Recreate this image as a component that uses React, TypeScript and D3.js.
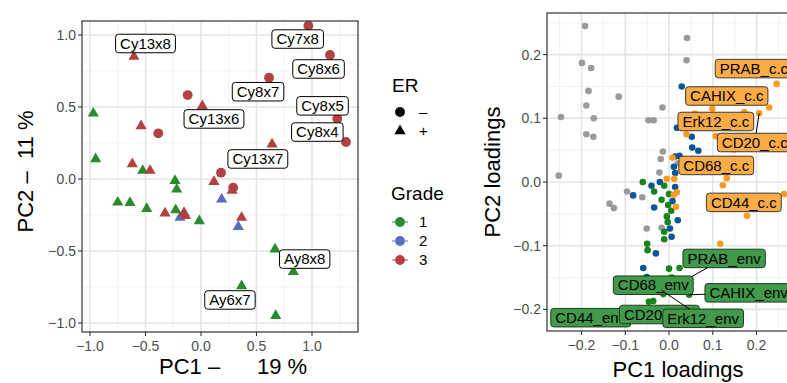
import React, { useRef, useEffect } from 'react';
import * as d3 from 'd3';

const FONT = "'Liberation Sans', Arial, Helvetica, sans-serif";

// ---------- Left panel: PCA scores ----------
const pcaX = [0.967, -0.604, 1.162, 0.613, -0.12, 0.012, -0.97, -0.54, -0.385, 1.228, 1.306, 0.64, -0.949, -0.619, -0.525, -0.459, 0.18, -0.234, -0.219, 0.117, 0.29, 0.28, 0.186, -0.75, -0.64, -0.489, -0.324, -0.228, -0.189, -0.153, -0.14, -0.015, 0.366, 0.336, 0.667, 0.832, 0.366, 0.673];
const pcaY = [1.065, 0.85, 0.861, 0.703, 0.583, 0.507, 0.456, 0.368, 0.317, 0.419, 0.257, 0.241, 0.139, 0.104, 0.058, 0.058, 0.044, -0.012, -0.072, -0.019, -0.06, -0.08, -0.141, -0.162, -0.165, -0.206, -0.238, -0.215, -0.268, -0.234, -0.255, -0.292, -0.268, -0.331, -0.488, -0.644, -0.743, -0.949];
const pcaGrade = [3, 3, 3, 3, 3, 3, 1, 3, 3, 3, 3, 3, 1, 3, 1, 3, 3, 1, 1, 3, 3, 3, 2, 1, 1, 1, 3, 1, 2, 3, 3, 1, 3, 2, 1, 1, 1, 1];
const pcaER = ['-', '+', '-', '-', '-', '+', '+', '+', '-', '-', '-', '+', '+', '+', '+', '+', '-', '+', '+', '+', '-', '+', '+', '+', '+', '+', '+', '+', '+', '+', '+', '+', '+', '+', '+', '+', '+', '+'];

const sampleNames = ['Cy13x8', 'Cy7x8', 'Cy8x6', 'Cy8x7', 'Cy8x5', 'Cy13x6', 'Cy8x4', 'Cy13x7', 'Ay8x8', 'Ay6x7'];
const sampleLabX = [-0.5, 0.871, 1.059, 0.514, 1.095, 0.117, 1.048, 0.512, 0.934, 0.261];
const sampleLabY = [0.941, 0.972, 0.764, 0.606, 0.508, 0.417, 0.326, 0.139, -0.556, -0.84];

const leftXTicks = [-1.0, -0.5, 0.0, 0.5, 1.0];
const leftYTicks = [-1.0, -0.5, 0.0, 0.5, 1.0];
const gradeLevels = [1, 2, 3];
const gradeColors = ['#2a8a2e', '#5b6cbf', '#b3413f'];
const erLevels = ['-', '+'];
const erLabels = ['\u2013', '+'];
const xTitleParts = ['PC1 \u2013', '19 %'];
const yTitle = 'PC2 \u2013  11 %';

// ---------- Right panel: loadings ----------
const greyX = [-0.192, -0.199, -0.178, -0.184, -0.115, -0.189, -0.015, -0.247, -0.172, -0.047, -0.035, 0.041, 0.04, -0.189, -0.173, -0.014, -0.022, -0.252, 0.02, -0.019, -0.096, -0.136, -0.126, -0.061, -0.051, -0.017];
const greyY = [0.245, 0.187, 0.179, 0.143, 0.134, 0.12, 0.117, 0.102, 0.1, 0.097, 0.097, 0.226, 0.191, 0.075, 0.071, 0.048, 0.015, 0.01, 0.029, 0.036, -0.015, -0.034, -0.041, -0.024, -0.073, -0.072];
const blueX = [0.029, 0.018, 0.052, 0.053, 0.067, 0.014, 0.024, 0.011, 0.014, -0.021, -0.04, 0.014, -0.082, 0.008, -0.034, 0.02, 0.002, 0.006, -0.03, -0.059, -0.051];
const blueY = [0.15, 0.085, 0.071, 0.054, 0.049, 0.04, 0.041, 0.024, 0.014, 0.0, -0.006, -0.008, -0.021, -0.03, -0.04, -0.06, -0.073, -0.086, -0.112, -0.135, -0.149];
const greenX = [-0.06, -0.034, -0.011, 0.0, -0.017, -0.002, 0.005, -0.005, -0.003, -0.011, -0.011, -0.05, -0.049, 0.0, 0.024, 0.006, 0.04, 0.046, -0.024, -0.013, -0.046, -0.036];
const greenY = [0.0, -0.015, -0.006, -0.019, -0.028, -0.036, -0.045, -0.054, -0.063, -0.078, -0.09, -0.097, -0.107, -0.136, -0.135, -0.15, -0.153, -0.177, -0.172, -0.176, -0.188, -0.187];
const orangeX = [0.246, 0.099, 0.172, 0.206, 0.229, 0.059, 0.04, 0.107, 0.149, 0.141, 0.008, 0.132, 0.123, 0.263, 0.178, 0.117, 0.012, -0.005, 0.018, 0.011, 0.016];
const orangeY = [0.154, 0.115, 0.11, 0.108, 0.117, 0.107, 0.075, 0.072, 0.051, 0.062, 0.038, 0.006, -0.005, -0.019, -0.053, -0.097, 0.005, 0.005, -0.016, -0.02, -0.039];

const ccNames = ['PRAB_c.c', 'CAHIX_c.c', 'Erk12_c.c', 'CD20_c.c', 'CD68_c.c', 'CD44_c.c'];
const ccLabX = [0.194, 0.132, 0.107, 0.196, 0.108, 0.171];
const ccLabY = [0.178, 0.135, 0.095, 0.062, 0.026, -0.032];
const ccPtX = [null, null, null, 0.206, null, null];
const ccPtY = [null, null, null, 0.108, null, null];
const envNames = ['PRAB_env', 'CD68_env', 'CAHIX_env', 'CD44_env', 'CD20_env', 'Erk12_env'];
const envLabX = [0.126, -0.036, 0.182, -0.179, -0.022, 0.078];
const envLabY = [-0.12, -0.162, -0.174, -0.213, -0.208, -0.214];
const envPtX = [0.04, null, 0.046, null, null, -0.017];
const envPtY = [-0.153, null, -0.177, null, null, -0.17];

const rightXTicks = [-0.2, -0.1, 0.0, 0.1, 0.2];
const rightYTicks = [-0.2, -0.1, 0.0, 0.1, 0.2];

export default function App() {
  const ref = useRef<SVGSVGElement>(null);

  useEffect(() => {
    const svg = d3.select(ref.current);
    svg.selectAll('*').remove();
    svg.append('rect').attr('width', 787).attr('height', 383).attr('fill', '#fff');
    const fmt = d3.format('.1f');

    function panel(xs: any, ys: any, xt: number[], yt: number[], step: number) {
      const g = svg.append('g');
      const [x0, x1] = xs.range();
      const [y1, y0] = ys.range();
      const [dx0, dx1] = xs.domain();
      const [dy0, dy1] = ys.domain();
      const allMinX = d3.range(-10, 10).map(i => (i + 0.5) * step).filter(v => v > dx0 && v < dx1);
      const allMinY = d3.range(-10, 10).map(i => (i + 0.5) * step).filter(v => v > dy0 && v < dy1);
      g.selectAll('.vmin').data(allMinX).join('line').attr('x1', d => xs(d)).attr('x2', d => xs(d)).attr('y1', y0).attr('y2', y1).attr('stroke', '#f2f2f2').attr('stroke-width', 1);
      g.selectAll('.hmin').data(allMinY).join('line').attr('y1', d => ys(d)).attr('y2', d => ys(d)).attr('x1', x0).attr('x2', x1).attr('stroke', '#f2f2f2').attr('stroke-width', 1);
      g.selectAll('.vmaj').data(xt).join('line').attr('x1', d => xs(d)).attr('x2', d => xs(d)).attr('y1', y0).attr('y2', y1).attr('stroke', '#e4e4e4').attr('stroke-width', 1.6);
      g.selectAll('.hmaj').data(yt).join('line').attr('y1', d => ys(d)).attr('y2', d => ys(d)).attr('x1', x0).attr('x2', x1).attr('stroke', '#e4e4e4').attr('stroke-width', 1.6);
      g.selectAll('.xt').data(xt).join('line').attr('x1', d => xs(d)).attr('x2', d => xs(d)).attr('y1', y1).attr('y2', y1 + 4).attr('stroke', '#333').attr('stroke-width', 1.1);
      g.selectAll('.yt').data(yt).join('line').attr('y1', d => ys(d)).attr('y2', d => ys(d)).attr('x1', x0 - 4).attr('x2', x0).attr('stroke', '#333').attr('stroke-width', 1.1);
      g.selectAll('.xl').data(xt).join('text').attr('x', d => xs(d)).attr('y', y1 + 19).attr('text-anchor', 'middle').attr('font-size', 14).attr('fill', '#4d4d4d').text(d => fmt(d));
      g.selectAll('.yl').data(yt).join('text').attr('x', x0 - 6).attr('y', d => ys(d) + 5).attr('text-anchor', 'end').attr('font-size', 14).attr('fill', '#4d4d4d').text(d => fmt(d));
      return { g, x0, x1, y0, y1 };
    }

    function frame(p: any) {
      p.g.append('rect').attr('x', p.x0).attr('y', p.y0).attr('width', p.x1 - p.x0).attr('height', p.y1 - p.y0).attr('fill', 'none').attr('stroke', '#333').attr('stroke-width', 1.2);
    }

    function labelBox(g: any, cx: number, cy: number, text: string, fill: string, stroke: string) {
      const grp = g.append('g');
      const rect = grp.append('rect');
      const t = grp.append('text').attr('x', cx).attr('y', cy + 5.3).attr('text-anchor', 'middle').attr('font-size', 15).attr('fill', '#000').text(text);
      const w = (t.node() as SVGTextElement).getComputedTextLength() + 9;
      const h = 18.5;
      rect.attr('x', cx - w / 2).attr('y', cy - h / 2).attr('width', w).attr('height', h).attr('rx', 3).attr('fill', fill).attr('stroke', stroke).attr('stroke-width', 1);
      return { x: cx - w / 2, y: cy - h / 2, w, h };
    }

    function segment(g: any, box: any, px: number, py: number) {
      const cx = box.x + box.w / 2, cy = box.y + box.h / 2;
      const dx = px - cx, dy = py - cy;
      const tx = dx !== 0 ? (box.w / 2) / Math.abs(dx) : Infinity;
      const ty = dy !== 0 ? (box.h / 2) / Math.abs(dy) : Infinity;
      const t = Math.min(tx, ty);
      if (t >= 1) return;
      g.append('line').attr('x1', cx + dx * t).attr('y1', cy + dy * t).attr('x2', px).attr('y2', py).attr('stroke', '#000').attr('stroke-width', 1);
    }

    // ===== Left panel =====
    const lx = d3.scaleLinear().domain([-1.0721, 1.4144]).range([82, 358]);
    const ly = d3.scaleLinear().domain([-1.0625, 1.0972]).range([332, 21]);
    const L = panel(lx, ly, leftXTicks, leftYTicks, 0.5);
    const circ = d3.symbol().type(d3.symbolCircle).size(76);
    const tri = d3.symbol().type(d3.symbolTriangle).size(54);
    const lpts = pcaX.map((x, i) => ({ x, y: pcaY[i], g: pcaGrade[i], er: pcaER[i] }));
    L.g.selectAll('.pt').data(lpts).join('path')
      .attr('transform', d => `translate(${lx(d.x)},${ly(d.y)})`)
      .attr('d', d => (d.er === '-' ? circ() : tri()) as string)
      .attr('fill', d => gradeColors[gradeLevels.indexOf(d.g)]);
    sampleNames.forEach((n, i) => {
      labelBox(L.g, lx(sampleLabX[i]), ly(sampleLabY[i]), n, 'rgba(255,255,255,0.95)', '#000');
    });
    frame(L);
    const xt = svg.append('text').attr('y', 374).attr('font-size', 22).attr('fill', '#000');
    xt.append('tspan').attr('x', 159).text(xTitleParts[0]);
    xt.append('tspan').attr('x', 257).text(xTitleParts[1]);
    svg.append('text').attr('transform', `translate(33,${(21 + 332) / 2 - 5}) rotate(-90)`).attr('text-anchor', 'middle').attr('font-size', 22).attr('fill', '#000')
      .style('white-space', 'pre').text(yTitle);

    // legends
    const lg = svg.append('g');
    lg.append('text').attr('x', 392).attr('y', 92).attr('font-size', 19).text('ER');
    erLevels.forEach((e, i) => {
      const cy = 112 + i * 19;
      lg.append('path').attr('transform', `translate(400,${cy})`).attr('d', (e === '-' ? circ() : tri()) as string).attr('fill', '#000');
      lg.append('text').attr('x', 419).attr('y', cy + 5).attr('font-size', 15).text(erLabels[i]);
    });
    lg.append('text').attr('x', 391).attr('y', 200).attr('font-size', 19).text('Grade');
    gradeLevels.forEach((gl, i) => {
      const cy = 222 + i * 19;
      lg.append('line').attr('x1', 392).attr('x2', 408).attr('y1', cy).attr('y2', cy).attr('stroke', gradeColors[i]).attr('stroke-width', 1);
      lg.append('path').attr('transform', `translate(400,${cy})`).attr('d', circ() as string).attr('fill', gradeColors[i]);
      lg.append('text').attr('x', 419).attr('y', cy + 5).attr('font-size', 15).text(String(gl));
    });

    // ===== Right panel =====
    const rx = d3.scaleLinear().domain([-0.2789, 0.31]).range([547, 547 + 0.5889 * 437.5]);
    const ry = d3.scaleLinear().domain([-0.2339, 0.2653]).range([331, 13]);
    const R = panel(rx, ry, rightXTicks, rightYTicks, 0.1);
    const rsym = d3.symbol().type(d3.symbolCircle).size(34);
    const groups = [
      { xs: greyX, ys: greyY, c: '#9a9a9a' },
      { xs: blueX, ys: blueY, c: '#0b5696' },
      { xs: greenX, ys: greenY, c: '#17861a' },
      { xs: orangeX, ys: orangeY, c: '#fb9b1f' },
    ];
    groups.forEach(gr => {
      R.g.selectAll(null).data(gr.xs.map((x, i) => [x, gr.ys[i]])).join('path')
        .attr('transform', d => `translate(${rx(d[0])},${ry(d[1])})`)
        .attr('d', rsym() as string).attr('fill', gr.c);
    });
    ccNames.forEach((n, i) => {
      const box = labelBox(R.g, rx(ccLabX[i]), ry(ccLabY[i]), n, '#fbac45', '#3a3a3a');
      if (ccPtX[i] !== null) segment(R.g, box, rx(ccPtX[i] as number), ry(ccPtY[i] as number));
    });
    envNames.forEach((n, i) => {
      const box = labelBox(R.g, rx(envLabX[i]), ry(envLabY[i]), n, '#41994a', '#1f3d1f');
      if (envPtX[i] !== null) segment(R.g, box, rx(envPtX[i] as number), ry(envPtY[i] as number));
    });
    frame(R);
    svg.append('text').attr('x', 678).attr('y', 377).attr('text-anchor', 'middle').attr('font-size', 22).text('PC1 loadings');
    svg.append('text').attr('transform', `translate(500,172) rotate(-90)`).attr('text-anchor', 'middle').attr('font-size', 22).text('PC2 loadings');
  }, []);

  return (
    <svg ref={ref} width={787} height={383} fontFamily={FONT}
      style={{ position: 'absolute', left: 0, top: 0, display: 'block' }} />
  );
}
